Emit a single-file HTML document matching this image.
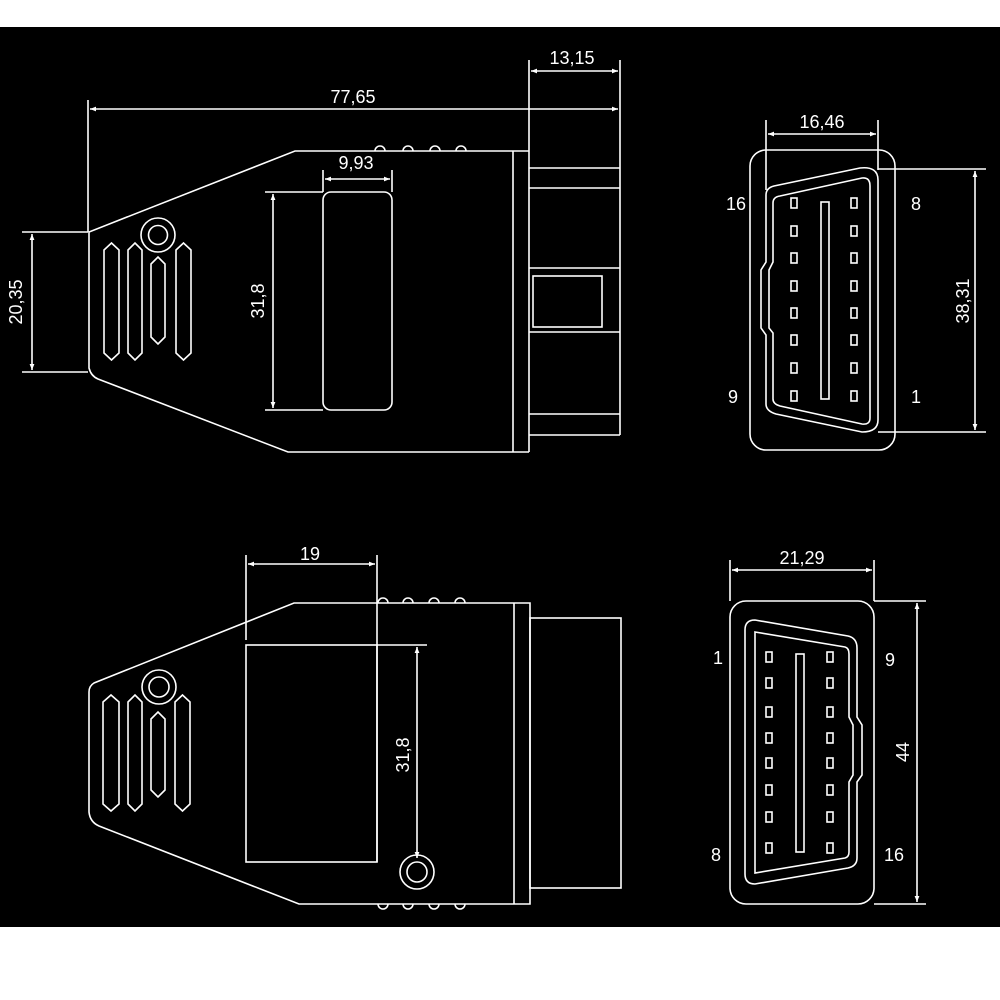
<!DOCTYPE html>
<html><head><meta charset="utf-8"><style>
html,body{margin:0;padding:0;background:#fff;}
svg{display:block;}
text{font-family:"Liberation Sans",sans-serif;fill:#fff;font-size:18px;}
</style></head><body>
<svg width="1000" height="1000" viewBox="0 0 1000 1000" xmlns="http://www.w3.org/2000/svg">
<rect x="0" y="0" width="1000" height="1000" fill="#fff"/>
<rect x="0" y="27" width="1000" height="900" fill="#000"/>
<defs>
<marker id="a" viewBox="0 0 10 10" refX="10" refY="5" markerWidth="8" markerHeight="6" orient="auto-start-reverse" markerUnits="userSpaceOnUse"><path d="M0,1 L10,5 L0,9z" fill="#fff"/></marker>
</defs>
<g fill="none" stroke="#fff" stroke-width="1.6">
<!-- ===== TOP LEFT ===== -->
<line x1="88" y1="100" x2="88" y2="232"/>
<line x1="620" y1="60" x2="620" y2="435"/>
<line x1="529" y1="60" x2="529" y2="452"/>
<line x1="90" y1="109" x2="618" y2="109" marker-start="url(#a)" marker-end="url(#a)"/>
<line x1="531" y1="71" x2="618" y2="71" marker-start="url(#a)" marker-end="url(#a)"/>
<path d="M529,151 L295,151 L89,232 L89,368 Q91,376 98,379 L288,452 L529,452"/>
<line x1="513" y1="151" x2="513" y2="452"/>
<path d="M375,151 a5,5 0 0 1 10,0 M403,151 a5,5 0 0 1 10,0 M430,151 a5,5 0 0 1 10,0 M456,151 a5,5 0 0 1 10,0"/>
<line x1="529" y1="168" x2="620" y2="168"/>
<line x1="529" y1="188" x2="620" y2="188"/>
<line x1="529" y1="268" x2="620" y2="268"/>
<line x1="529" y1="332" x2="620" y2="332"/>
<line x1="529" y1="414" x2="620" y2="414"/>
<line x1="529" y1="435" x2="620" y2="435"/>
<rect x="533" y="276" width="69" height="51"/>
<line x1="22" y1="232" x2="88" y2="232"/>
<line x1="22" y1="372" x2="88" y2="372"/>
<line x1="32" y1="234" x2="32" y2="370" marker-start="url(#a)" marker-end="url(#a)"/>
<circle cx="158" cy="235" r="17"/>
<circle cx="158" cy="235" r="9.5"/>
<path d="M104,250 L111.5,243 L119,250 L119,353 L111.5,360 L104,353Z"/>
<path d="M128,250 L135,243 L142,250 L142,353 L135,360 L128,353Z"/>
<path d="M151,264 L158,257 L165,264 L165,337 L158,344 L151,337Z"/>
<path d="M176,250 L183.5,243 L191,250 L191,353 L183.5,360 L176,353Z"/>
<rect x="323" y="192" width="69" height="218" rx="8"/>
<line x1="323" y1="170" x2="323" y2="192"/>
<line x1="392" y1="170" x2="392" y2="192"/>
<line x1="325" y1="179" x2="390" y2="179" marker-start="url(#a)" marker-end="url(#a)"/>
<line x1="265" y1="192" x2="323" y2="192"/>
<line x1="265" y1="410" x2="323" y2="410"/>
<line x1="273" y1="194" x2="273" y2="408" marker-start="url(#a)" marker-end="url(#a)"/>

<!-- ===== BOTTOM LEFT ===== -->
<line x1="246" y1="555" x2="246" y2="640"/>
<line x1="377" y1="555" x2="377" y2="862"/>
<line x1="248" y1="564" x2="375" y2="564" marker-start="url(#a)" marker-end="url(#a)"/>
<path d="M530,603 L294,603 L94,683 Q89,686 89,692 L89,812 Q90,822 99,826 L299,904 L530,904 Z"/>
<line x1="514" y1="603" x2="514" y2="904"/>
<path d="M378,603 a5,5 0 0 1 10,0 M403,603 a5,5 0 0 1 10,0 M429,603 a5,5 0 0 1 10,0 M455,603 a5,5 0 0 1 10,0"/>
<path d="M378,904 a5,5 0 0 0 10,0 M403,904 a5,5 0 0 0 10,0 M429,904 a5,5 0 0 0 10,0 M455,904 a5,5 0 0 0 10,0"/>
<rect x="246" y="645" width="131" height="217"/>
<line x1="377" y1="645" x2="427" y2="645"/>
<line x1="417" y1="647" x2="417" y2="858" marker-start="url(#a)" marker-end="url(#a)"/>
<circle cx="417" cy="872" r="17"/>
<circle cx="417" cy="872" r="10"/>
<rect x="530" y="618" width="91" height="270"/>
<circle cx="159" cy="687" r="17"/>
<circle cx="159" cy="687" r="10"/>
<path d="M103,702 L111,695 L119,702 L119,804 L111,811 L103,804Z"/>
<path d="M128,702 L135,695 L142,702 L142,804 L135,811 L128,804Z"/>
<path d="M151,719 L158,712 L165,719 L165,790 L158,797 L151,790Z"/>
<path d="M175,702 L182.5,695 L190,702 L190,804 L182.5,811 L175,804Z"/>

<!-- ===== TOP RIGHT ===== -->
<rect x="750" y="150" width="145" height="300" rx="16"/>
<line x1="766" y1="120" x2="766" y2="190"/>
<line x1="878" y1="120" x2="878" y2="170"/>
<line x1="768" y1="134" x2="876" y2="134" marker-start="url(#a)" marker-end="url(#a)"/>
<line x1="878" y1="169" x2="986" y2="169"/>
<line x1="878" y1="432" x2="986" y2="432"/>
<line x1="975" y1="171" x2="975" y2="430" marker-start="url(#a)" marker-end="url(#a)"/>
<path d="M766,262 L766,195 Q766,188 774,186 L860,168 Q878,166 878,180 L878,420 Q878,432 862,432 L776,414 Q766,411 766,404 L766,335 L761,328 L761,270 Z"/>
<path d="M773,262 L773,203 Q773,197 780,196 L862,178 Q870,177 870,186 L870,418 Q870,425 862,424 L780,406 Q773,404 773,399 L773,333 L769,328 L769,270 Z"/>
<g>
<rect x="791" y="198" width="6" height="10"/><rect x="851" y="198" width="6" height="10"/>
<rect x="791" y="226" width="6" height="10"/><rect x="851" y="226" width="6" height="10"/>
<rect x="791" y="253" width="6" height="10"/><rect x="851" y="253" width="6" height="10"/>
<rect x="791" y="281" width="6" height="10"/><rect x="851" y="281" width="6" height="10"/>
<rect x="791" y="308" width="6" height="10"/><rect x="851" y="308" width="6" height="10"/>
<rect x="791" y="335" width="6" height="10"/><rect x="851" y="335" width="6" height="10"/>
<rect x="791" y="363" width="6" height="10"/><rect x="851" y="363" width="6" height="10"/>
<rect x="791" y="391" width="6" height="10"/><rect x="851" y="391" width="6" height="10"/>
</g>
<rect x="821" y="202" width="8" height="197"/>

<!-- ===== BOTTOM RIGHT ===== -->
<rect x="730" y="601" width="144" height="303" rx="16"/>
<line x1="730" y1="560" x2="730" y2="601"/>
<line x1="874" y1="560" x2="874" y2="601"/>
<line x1="732" y1="570" x2="872" y2="570" marker-start="url(#a)" marker-end="url(#a)"/>
<line x1="874" y1="601" x2="926" y2="601"/>
<line x1="874" y1="904" x2="926" y2="904"/>
<line x1="917" y1="603" x2="917" y2="902" marker-start="url(#a)" marker-end="url(#a)"/>
<path d="M745,630 Q745,620 755,620 L848,636 Q857,638 857,648 L857,717 L862,725 L862,775 L857,782 L857,858 Q857,866 848,868 L755,884 Q745,884 745,874 Z"/>
<path d="M755,632 L845,647 Q849,648 849,654 L849,717 L853,725 L853,775 L849,782 L849,852 Q849,857 845,858 L755,873 Z"/>
<g>
<rect x="766" y="652" width="6" height="10"/><rect x="827" y="652" width="6" height="10"/>
<rect x="766" y="678" width="6" height="10"/><rect x="827" y="678" width="6" height="10"/>
<rect x="766" y="707" width="6" height="10"/><rect x="827" y="707" width="6" height="10"/>
<rect x="766" y="733" width="6" height="10"/><rect x="827" y="733" width="6" height="10"/>
<rect x="766" y="758" width="6" height="10"/><rect x="827" y="758" width="6" height="10"/>
<rect x="766" y="785" width="6" height="10"/><rect x="827" y="785" width="6" height="10"/>
<rect x="766" y="812" width="6" height="10"/><rect x="827" y="812" width="6" height="10"/>
<rect x="766" y="843" width="6" height="10"/><rect x="827" y="843" width="6" height="10"/>
</g>
<rect x="796" y="654" width="8" height="198"/>
</g>

<!-- TEXT -->
<text x="353" y="103" text-anchor="middle">77,65</text>
<text x="572" y="64" text-anchor="middle">13,15</text>
<text x="356" y="169" text-anchor="middle">9,93</text>
<text transform="translate(22,302) rotate(-90)" text-anchor="middle">20,35</text>
<text transform="translate(264,301) rotate(-90)" text-anchor="middle">31,8</text>
<text x="310" y="560" text-anchor="middle">19</text>
<text transform="translate(409,755) rotate(-90)" text-anchor="middle">31,8</text>
<text x="822" y="128" text-anchor="middle">16,46</text>
<text transform="translate(969,301) rotate(-90)" text-anchor="middle">38,31</text>
<text x="736" y="210" text-anchor="middle">16</text>
<text x="916" y="210" text-anchor="middle">8</text>
<text x="733" y="403" text-anchor="middle">9</text>
<text x="916" y="403" text-anchor="middle">1</text>
<text x="802" y="564" text-anchor="middle">21,29</text>
<text transform="translate(909,752) rotate(-90)" text-anchor="middle">44</text>
<text x="718" y="664" text-anchor="middle">1</text>
<text x="890" y="666" text-anchor="middle">9</text>
<text x="716" y="861" text-anchor="middle">8</text>
<text x="894" y="861" text-anchor="middle">16</text>
</svg>
</body></html>
